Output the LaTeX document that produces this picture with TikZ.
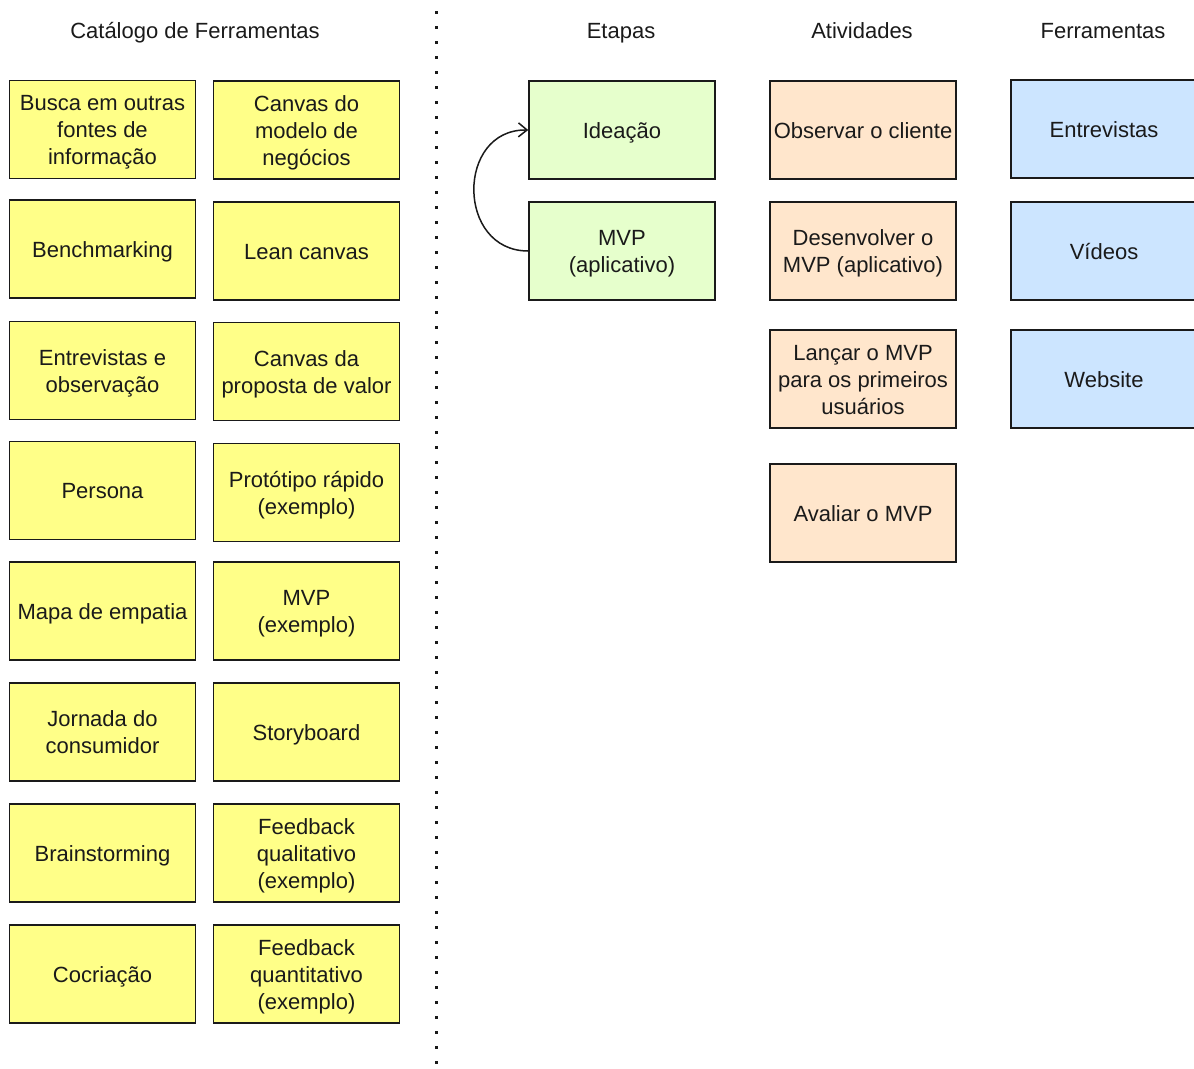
\documentclass[tikz,border=0pt]{standalone}
\usepackage{fontspec}
\setmainfont{Liberation Sans}
\usetikzlibrary{arrows.meta}

\definecolor{catalog}{HTML}{FFFF88}
\definecolor{stage}{HTML}{E6FFCC}
\definecolor{activity}{HTML}{FFE6CC}
\definecolor{toolblue}{HTML}{CCE5FF}
\definecolor{ink}{HTML}{1A1A1A}

% invisible rules that give the first and last line of every label a fixed height and depth
\newcommand{\labeltop}{\rule{0pt}{18.7pt}}
\newcommand{\labelbot}{\rule[-6.1pt]{0pt}{0pt}}

% one drawing unit = 0.75pt
\tikzset{
  card/.style={draw=ink, line width=1.125pt, minimum width=139.5pt, minimum height=73.5pt,
    inner sep=0pt, align=center, text=ink,
    font=\fontsize{16.5}{20.25}\selectfont},
  catcard/.style={card, fill=catalog},
  stagecard/.style={card, fill=stage},
  actcard/.style={card, fill=activity},
  toolcard/.style={card, fill=toolblue},
  heading/.style={text=ink, font=\fontsize{16.5}{20.25}\selectfont, inner sep=0pt},
}

\begin{document}
\begin{tikzpicture}[x=0.75pt, y=-0.75pt]
% page frame
\useasboundingbox (0,0) rectangle (1194,1068);
\clip (0,0) rectangle (1194,1068);
\fill[white] (0,0) rectangle (1194,1068);

% column headings
\node[heading] (hcat) at (195,30) {\labeltop Catálogo de Ferramentas\labelbot};
\node[heading] (hstage) at (621,30) {\labeltop Etapas\labelbot};
\node[heading] (hact) at (862,30) {\labeltop Atividades\labelbot};
\node[heading] (htool) at (1103,30) {\labeltop Ferramentas\labelbot};

% separator
\coordinate (septop) at (436,11);
\coordinate (sepbot) at (436,1072);
\draw[ink, line width=2.25pt, dash pattern=on 2.25pt off 9pt] (septop) -- (sepbot);

% tool catalogue, first column
\node[catcard] (c11) at (102.5,129.5) {\labeltop Busca em outras\\fontes de\\informação\labelbot};
\node[catcard] (c21) at (102.5,249) {\labeltop Benchmarking\labelbot};
\node[catcard] (c31) at (102.5,370.5) {\labeltop Entrevistas e\\observação\labelbot};
\node[catcard] (c41) at (102.5,490.5) {\labeltop Persona\labelbot};
\node[catcard] (c51) at (102.5,611) {\labeltop Mapa de empatia\labelbot};
\node[catcard] (c61) at (102.5,732) {\labeltop Jornada do\\consumidor\labelbot};
\node[catcard] (c71) at (102.5,853) {\labeltop Brainstorming\labelbot};
\node[catcard] (c81) at (102.5,974) {\labeltop Cocriação\labelbot};

% tool catalogue, second column
\node[catcard] (c12) at (306.5,130) {\labeltop Canvas do\\modelo de\\negócios\labelbot};
\node[catcard] (c22) at (306.5,251) {\labeltop Lean canvas\labelbot};
\node[catcard] (c32) at (306.5,371.5) {\labeltop Canvas da\\proposta de valor\labelbot};
\node[catcard] (c42) at (306.5,492.5) {\labeltop Protótipo rápido\\(exemplo)\labelbot};
\node[catcard] (c52) at (306.5,611) {\labeltop MVP\\(exemplo)\labelbot};
\node[catcard] (c62) at (306.5,732) {\labeltop Storyboard\labelbot};
\node[catcard] (c72) at (306.5,853) {\labeltop Feedback\\qualitativo\\(exemplo)\labelbot};
\node[catcard] (c82) at (306.5,974) {\labeltop Feedback\\quantitativo\\(exemplo)\labelbot};

% stages
\node[stagecard] (ideacao) at (622,130) {\labeltop Ideação\labelbot};
\node[stagecard] (mvp) at (622,251) {\labeltop MVP\\(aplicativo)\labelbot};

% activities
\node[actcard] (a1) at (863,130) {\labeltop Observar o cliente\labelbot};
\node[actcard] (a2) at (863,251) {\labeltop Desenvolver o\\MVP (aplicativo)\labelbot};
\node[actcard] (a3) at (863,379) {\labeltop Lançar o MVP\\para os primeiros\\usuários\labelbot};
\node[actcard] (a4) at (863,513) {\labeltop Avaliar o MVP\labelbot};

% tools
\node[toolcard] (t1) at (1104,129) {\labeltop Entrevistas\labelbot};
\node[toolcard] (t2) at (1104,251) {\labeltop Vídeos\labelbot};
\node[toolcard] (t3) at (1104,379) {\labeltop Website\labelbot};

% loop back from MVP to ideation
\draw[ink, line width=1.125pt, -{Straight Barb[length=6.5pt, width=10.5pt]}]
  (mvp.west) .. controls (456,251) and (456,129) .. (ideacao.west);
\end{tikzpicture}
\end{document}
